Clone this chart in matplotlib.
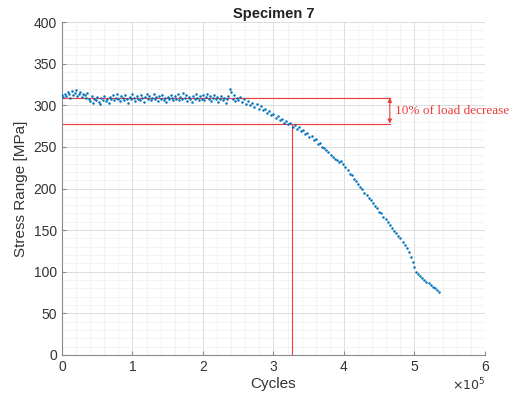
import matplotlib
matplotlib.use("Agg")
from matplotlib import pyplot as plt
from matplotlib.ticker import MultipleLocator, FuncFormatter

plt.rcParams['font.family'] = ['Liberation Sans', 'DejaVu Sans']

# cycles in thousands, stress range in MPa
cycles_k = [
    0, 2, 4, 6, 8, 10, 12, 14, 16, 18, 20, 22, 24, 26, 28, 30, 32, 34, 36, 38,
    40, 42, 44, 46, 48, 50, 52, 54, 56, 58, 60, 62, 64, 66, 68, 70, 72, 74, 76, 78,
    80, 82, 84, 86, 88, 90, 92, 94, 96, 98, 100, 102, 104, 106, 108, 110, 112, 114, 116, 118,
    120, 122, 124, 126, 128, 130, 132, 134, 136, 138, 140, 142, 144, 146, 148, 150, 152, 154, 156, 158,
    160, 162, 164, 166, 168, 170, 172, 174, 176, 178, 180, 182, 184, 186, 188, 190, 192, 194, 196, 198,
    200, 202, 204, 206, 208, 210, 212, 214, 216, 218, 220, 222, 224, 226, 228, 230, 232, 234, 236, 238,
    240, 242, 244, 246, 248, 250,
    252, 255, 258, 261, 264, 267, 270, 273, 276, 279, 282, 285, 288, 291, 294, 297, 300, 303, 306, 309,
    312, 315, 318, 321, 324, 327, 330, 333, 336, 339, 342, 345, 348, 351, 354, 357, 360, 363, 366, 369,
    372, 375, 378, 381, 384, 387, 390, 393, 396, 399, 402, 405, 408, 411, 414, 417, 420, 423, 426, 429,
    432, 435, 438, 441, 444, 447, 450, 453, 456, 459, 462, 465, 468, 471, 474, 477, 480, 483, 486, 489,
    492, 495, 498, 500, 502, 505, 508, 511, 514, 517, 520, 523, 526, 529, 532, 535,
]
stress = [
    312, 310, 314, 311, 316, 313, 309, 317, 312, 315, 318, 311, 314, 316, 310, 313, 312, 309, 315, 308,
    305, 311, 303, 308, 306, 310, 304, 302, 309, 306, 311, 305, 308, 303, 310, 307, 312, 306, 309, 313,
    308, 305, 311, 309, 306, 312, 308, 303, 310, 307, 313, 309, 305, 311, 308, 306, 312, 309, 304, 310,
    314, 308, 311, 306, 309, 313, 307, 310, 305, 311, 308, 312, 306, 309, 304, 310, 307, 312, 309, 306,
    311, 308, 313, 306, 310, 307, 315, 309, 312, 305, 310, 308, 304, 311, 307, 313, 309, 306, 311, 308,
    312, 306, 310, 314, 307, 311, 305, 309, 312, 307, 310, 304, 308, 311, 306, 309, 303, 307, 311, 320,
    316, 308, 312, 305, 309, 306,
    310, 304, 307, 302, 305, 300, 303, 298, 301, 296, 299, 294, 296, 291, 293, 288, 290, 285, 287, 282,
    284, 279, 281, 277, 279, 274, 276, 272, 274, 269, 270, 266, 267, 262, 263, 258, 259, 254, 255, 250,
    249, 246, 244, 240, 238, 236, 234, 232, 233, 230, 226, 222, 218, 216, 212, 209, 205, 202, 199, 195,
    192, 189, 186, 183, 179, 176, 172, 170, 166, 163, 160, 156, 152, 149, 146, 143, 140, 136, 132, 128,
    124, 118, 112, 106, 100, 97, 95, 93, 90, 88, 86, 84, 82, 80, 78, 76,
]

initial_stress = 309
reduced_stress = 278
failure_cycles = 3.26e5
marker_cycles = 4.65e5

red = '#ee3b3b'
blue = '#0072BD'

fig = plt.figure(figsize=(5.11, 4.0), dpi=100)
ax = fig.add_axes([0.1213, 0.1125, 0.8278, 0.8325])

ax.plot([c * 1e3 for c in cycles_k], stress, 'o', color=blue, markersize=1.8,
        markeredgewidth=0, zorder=3)

# 10% load decrease markers
ax.plot([0, marker_cycles], [initial_stress, initial_stress], color=red, lw=0.8, zorder=2)
ax.plot([0, marker_cycles], [reduced_stress, reduced_stress], color=red, lw=0.8, zorder=2)
ax.plot([failure_cycles, failure_cycles], [0, reduced_stress], color=red, lw=0.8, zorder=2)
ax.annotate('', xy=(marker_cycles, initial_stress), xytext=(marker_cycles, reduced_stress),
            arrowprops=dict(arrowstyle='<|-|>', color=red, lw=0.8,
                            mutation_scale=6, shrinkA=0, shrinkB=0))
ax.text(marker_cycles + 0.07e5, (initial_stress + reduced_stress) / 2, '10% of load decrease',
        color=red, fontsize=9.5, family=['Liberation Serif', 'DejaVu Serif'],
        va='center', ha='left', clip_on=False)

ax.set_xlim(0, 6e5)
ax.set_ylim(0, 400)
ax.xaxis.set_major_locator(MultipleLocator(1e5))
ax.xaxis.set_minor_locator(MultipleLocator(0.2e5))
ax.yaxis.set_major_locator(MultipleLocator(50))
ax.yaxis.set_minor_locator(MultipleLocator(10))
ax.xaxis.set_major_formatter(FuncFormatter(lambda v, pos: f'{v / 1e5:g}'))

ax.grid(which='major', color='#dcdcdc', lw=0.7)
ax.grid(which='minor', color='#efefef', lw=0.5)
ax.set_axisbelow(True)

for side in ('top', 'right'):
    ax.spines[side].set_visible(False)
for side in ('left', 'bottom'):
    ax.spines[side].set_color('#8a8a8a')
    ax.spines[side].set_linewidth(0.8)
ax.tick_params(which='both', direction='in', colors='#8a8a8a', labelcolor='#333333',
               labelsize=10)
ax.tick_params(which='major', length=3)
ax.tick_params(which='minor', length=0)

ax.set_title('Specimen 7', fontsize=10.5, fontweight='bold', color='#222222', pad=3)
ax.set_xlabel('Cycles', fontsize=11, color='#333333', labelpad=2)
ax.set_ylabel('Stress Range [MPa]', fontsize=11, color='#333333', labelpad=4)
ax.text(1.0, -0.065, r'$\times10^5$', transform=ax.transAxes, ha='right', va='top',
        fontsize=9, color='#333333')

fig.savefig('out.png', dpi=100)
